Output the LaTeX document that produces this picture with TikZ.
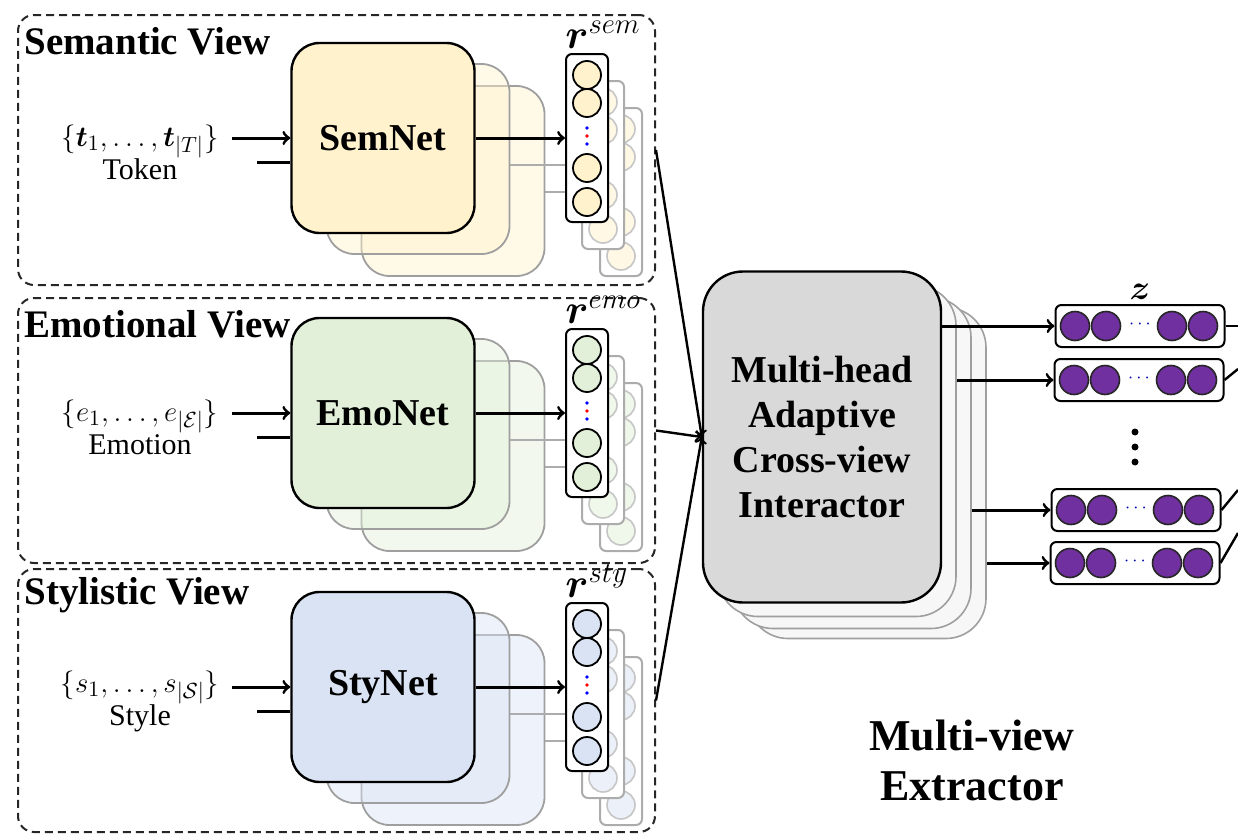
\documentclass[tikz,border=0pt]{standalone}
\usepackage{fontspec}
\setmainfont{Liberation Serif}
\usepackage{bm}
\usetikzlibrary{positioning}

\definecolor{semfill}{HTML}{FFF2CC}
\definecolor{emofill}{HTML}{E2F0D9}
\definecolor{styfill}{HTML}{DAE3F3}
\definecolor{mixfill}{HTML}{D9D9D9}
\definecolor{zfill}{HTML}{7030A0}

\tikzset{
  viewbox/.style={draw=black!85, line width=1pt, dash pattern=on 4pt off 2.5pt, rounded corners=8pt},
  viewtitle/.style={font=\fontsize{19.5}{22}\selectfont\bfseries, inner sep=0pt},
  netbox/.style={draw, line width=1.2pt, rounded corners=14pt, minimum width=91.5pt, minimum height=95pt,
    font=\fontsize{19}{22}\selectfont\bfseries},
  ghostnet/.style={draw=gray!75, line width=0.9pt, rounded corners=14pt, minimum width=91.5pt, minimum height=95pt,
    fill opacity=0.45},
  vecbox/.style={draw, fill=white, line width=1pt, rounded corners=3pt, minimum width=21pt, minimum height=84pt},
  ghostvec/.style={draw=gray!65, fill=white, line width=1pt, rounded corners=3pt, minimum width=21pt, minimum height=84pt},
  unit/.style={circle, draw, line width=0.9pt, minimum size=14pt, inner sep=0pt},
  ghostunit/.style={circle, draw=gray!45, line width=0.8pt, minimum size=14pt, inner sep=0pt, fill opacity=0.5},
  inlabel/.style={align=center, font=\fontsize{15}{16.5}\selectfont, inner sep=0pt},
  rlabel/.style={font=\fontsize{20}{22}\selectfont, inner xsep=0pt, inner ysep=2pt},
  flow/.style={->, line width=1.5pt},
  ghostline/.style={draw=gray!65, line width=1.2pt},
  mixbox/.style={draw, fill=mixfill, line width=1.2pt, rounded corners=20pt, minimum width=119pt, minimum height=165.5pt,
    align=center, font=\fontsize{19}{22.5}\selectfont\bfseries},
  ghostmix/.style={draw=gray!75, fill=gray!6, line width=0.8pt, rounded corners=20pt, minimum width=119pt, minimum height=165.5pt},
  zvec/.style={draw, fill=white, line width=1pt, rounded corners=3pt, minimum width=84.5pt, minimum height=21pt},
  zunit/.style={circle, draw=black!85, fill=zfill, line width=0.8pt, minimum size=14.5pt, inner sep=0pt},
  zdots/.style={text=blue!70!black, font=\small, inner sep=0pt}
}

\begin{document}
\begin{tikzpicture}[x=0.5pt, y=-0.5pt, line join=round]
\useasboundingbox (0,0) rectangle (1238,835);

% the three views
\foreach \vn/\yc/\ytop/\ybot/\vtitle/\net/\col/\inp/\rsup in {
  sem/138/15/285/Semantic View/SemNet/semfill/{$\{\bm{t}_1,\ldots,\bm{t}_{|T|}\}$\\Token}/sem,
  emo/413/298/563/Emotional View/EmoNet/emofill/{$\{e_1,\ldots,e_{|\mathcal{E}|}\}$\\Emotion}/emo,
  sty/687/569/832/Stylistic View/StyNet/styfill/{$\{s_1,\ldots,s_{|\mathcal{S}|}\}$\\Style}/sty}
{
  \node[viewbox, minimum width=318.5pt, minimum height={(\ybot-\ytop)*0.5pt}] (\vn-box) at (336.5,{(\ytop+\ybot)/2}) {};
  \node[viewtitle, anchor=west] at (24,{\ytop+26}) {\vtitle};
  % stacked copies
  \node[ghostnet, fill=\col] (\vn-g2) at (453,{\yc+43}) {};
  \node[ghostnet, fill=\col] (\vn-g1) at (418,{\yc+21}) {};
  \foreach \dx/\dy/\gi in {34/54/2, 16/27/1} {
    \node[ghostvec] (\vn-gv\gi) at ({587+\dx},{\yc+\dy}) {};
    \foreach \cy in {-63,-35,30,64}
      \node[ghostunit, fill=\col] at ({587+\dx},{\yc+\dy+\cy}) {};
  }
  \draw[ghostline] (\vn-gv1.west -| \vn-g1.east) -- (\vn-gv1.west);
  \draw[ghostline] (\vn-gv2.west -| \vn-g2.east) -- (\vn-gv2.west);
  \node[netbox, fill=\col] (\vn-net) at (383,\yc) {\net};
  \node[vecbox] (\vn-vec) at (587,\yc) {};
  \foreach \cy in {-63,-35,30,64}
    \node[unit, fill=\col] at (587,{\yc+\cy}) {};
  \foreach \cy/\dc in {-10/blue, -2/red, 6/blue}
    \fill[\dc] (587,{\yc+\cy}) circle (1.8);
  \node[rlabel, anchor=south west] at (\vn-vec.north west) {$\bm{r}^{\rsup}$};
  % input
  \node[inlabel] (\vn-in) at (140,{\yc+14}) {\inp};
  \coordinate (\vn-a) at (232,\yc);
  \coordinate (\vn-b) at (257,{\yc+24});
  \draw[flow] (\vn-a) -- (\vn-net.west);
  \draw[line width=1.5pt] (\vn-b) -- (\vn-b -| \vn-net.west);
  \draw[flow] (\vn-net.east) -- (\vn-vec.west);
}

% interactor
\foreach \dx/\dy/\gi in {45/36/3, 30/26/2, 15/14/1}
  \node[ghostmix] (mg\gi) at ({822+\dx},{437+\dy}) {};
\node[mixbox] (mix) at (822,437) {Multi-head\\Adaptive\\Cross-view\\Interactor};
\foreach \vn in {sem,emo,sty}
  \draw[->, line width=1.2pt] (\vn-box.east) -- (mix.west);

% output vectors
\foreach \gi/\zx/\zy/\src in {1/1140/326/mix, 2/1139/380/mg1, 3/1136/510/mg2, 4/1135/563/mg3} {
  \node[zvec] (z\gi) at (\zx,\zy) {};
  \foreach \cx in {-65,-34,32,63}
    \node[zunit] at ({\zx+\cx},\zy) {};
  \node[zdots] at (\zx,{\zy-2}) {$\cdots$};
  \draw[flow] (z\gi.west -| \src.east) -- (z\gi.west);
}
\node[font=\fontsize{17}{19}\selectfont, inner sep=1pt, above=1pt of z1] (zlbl) {$\bm{z}$};
\foreach \dy in {432,447,462}
  \fill (1135,\dy) circle (3.5);
\coordinate (o1) at (1238,326);
\coordinate (o2) at (1238,369);
\coordinate (o3) at (1238,490);
\coordinate (o4) at (1238,533);
\foreach \gi in {1,2,3,4}
  \draw[line width=1.2pt] (z\gi.east) -- (o\gi);

\node[align=center, font=\fontsize{22}{25}\selectfont\bfseries] (extr) at (972,760) {Multi-view\\Extractor};
\end{tikzpicture}
\end{document}
